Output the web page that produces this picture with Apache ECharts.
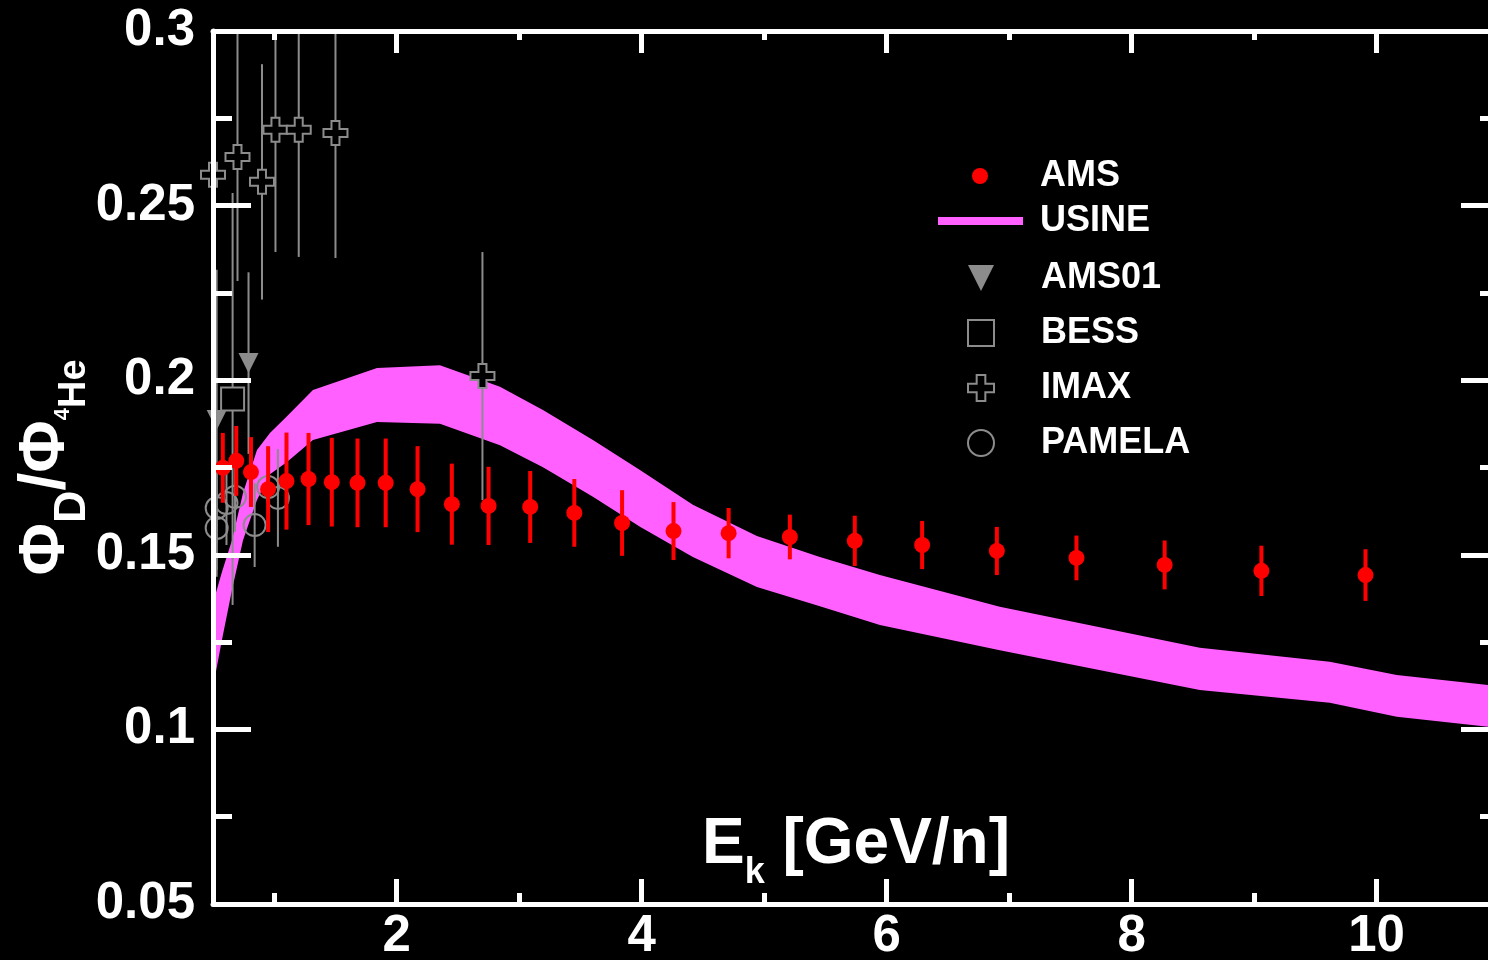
<!DOCTYPE html>
<html>
<head>
<meta charset="utf-8">
<script src="https://cdn.jsdelivr.net/npm/echarts@6/dist/echarts.min.js"></script>
<style>
html,body{margin:0;padding:0;background:#000;}
#chart{width:1488px;height:960px;}
</style>
</head>
<body>
<div id="chart"></div>
<script>
// ---------------- data ----------------
// AMS (red dots)
const amsE     = [0.58,0.69,0.81,0.95,1.10,1.28,1.47,1.68,1.91,2.17,2.45,2.75,3.09,3.45,3.84,4.26,4.71,5.21,5.74,6.29,6.90,7.55,8.27,9.06,9.91];
const amsRatio = [0.1749,0.1769,0.1737,0.1688,0.1711,0.1717,0.1708,0.1706,0.1706,0.1688,0.1645,0.1640,0.1637,0.1620,0.1591,0.1568,0.1562,0.1551,0.1540,0.1528,0.1511,0.1491,0.1471,0.1454,0.1442];
const amsErr   = [0.0100,0.0100,0.0100,0.0123,0.0139,0.0132,0.0127,0.0127,0.0127,0.0123,0.0116,0.0112,0.0103,0.0097,0.0094,0.0083,0.0072,0.0064,0.0072,0.0069,0.0069,0.0064,0.0070,0.0072,0.0074];

// USINE model band
const usineE    = [0.5,0.573,0.655,0.745,0.859,0.965,1.104,1.316,1.839,2.353,2.843,3.194,3.602,3.986,4.418,4.941,5.455,5.945,6.924,8.557,9.618,10.165,11.0];
const usineHigh = [0.1362,0.1451,0.1542,0.1677,0.1800,0.1849,0.1897,0.1972,0.2035,0.2043,0.1981,0.1915,0.1829,0.1743,0.1643,0.1554,0.1494,0.1442,0.1351,0.1234,0.1194,0.1156,0.1124];
const usineLow  = [0.1121,0.1256,0.1399,0.1542,0.1657,0.1731,0.1766,0.1829,0.1880,0.1875,0.1814,0.1751,0.1666,0.1580,0.1494,0.1408,0.1353,0.1299,0.1227,0.1113,0.1076,0.1036,0.1004];

// AMS01
const ams01E     = [0.53,0.79];
const ams01Ratio = [0.1886,0.2049];
const ams01Err   = [0.043,0.026];

// BESS
const bessE     = [0.66];
const bessRatio = [0.1946];
const bessErr   = [0.059];

// IMAX
const imaxE     = [0.50,0.70,0.90,1.01,1.20,1.50,2.70];
const imaxRatio = [0.2588,0.2639,0.2568,0.2717,0.2717,0.2708,0.2012];
const imaxErr   = [0.0415,0.0355,0.0337,0.0350,0.0364,0.0358,0.0355];

// PAMELA
const pamelaE     = [0.53,0.53,0.61,0.68,0.84,0.95,1.03];
const pamelaRatio = [0.1634,0.1577,0.1648,0.1666,0.1585,0.1694,0.1663];
const pamelaErr   = [0.010,0.014,0.012,0.010,0.012,0.008,0.014];

// ticks
const xMajorTicks = [2,4,6,8,10];
const xMinorTicks = [1,3,5,7,9];

// ---------------- styles ----------------
const FONT = '"Liberation Sans", Arial, sans-serif';
const WHITE = '#ffffff';
const GREY = '#8c8c8c';
const RED = '#ff0000';
const PINK = '#ff60ff';
const X_MIN = 0.5, X_MAX = 11, Y_MIN = 0.05, Y_MAX = 0.3;

const trianglePath = 'path://M0,0L2,0L1,2Z';
const plusPath = 'path://M1,0H2V1H3V2H2V3H1V2H0V1H1Z';
const squarePath = 'path://M0,0H1V1H0Z';

const lineSt = {color: WHITE, width: 5};
const tickLabel = {color: WHITE, fontFamily: FONT, fontWeight: 'bold', fontSize: 51};
const legendText = {color: WHITE, fontFamily: FONT, fontWeight: 'bold', fontSize: 36};

function zip(a, b) { return a.map((v, i) => [v, b[i]]); }

function errSeries(name, E, V, Err, color, width, z) {
  return {
    type: 'custom', name: name, z: z, clip: true, silent: true,
    xAxisIndex: 0, yAxisIndex: 0,
    data: E.map((e, i) => [e, V[i] - Err[i], V[i] + Err[i]]),
    encode: {x: 0, y: [1, 2]},
    renderItem: function (params, api) {
      const lo = api.coord([api.value(0), api.value(1)]);
      const hi = api.coord([api.value(0), api.value(2)]);
      return {type: 'line', shape: {x1: lo[0], y1: lo[1], x2: hi[0], y2: hi[1]},
              style: {stroke: color, lineWidth: width}};
    }
  };
}

const xAxisBase = {type: 'value', min: X_MIN, max: X_MAX, splitLine: {show: false}, z: 10};

const option = {
  backgroundColor: '#000000',
  animation: false,
  grid: {left: 213, top: 31, right: -11, bottom: 56, containLabel: false, outerBoundsMode: 'none'},
  xAxis: [
    Object.assign({}, xAxisBase, {
      position: 'bottom',
      axisLine: {show: true, onZero: false, lineStyle: lineSt},
      axisTick: {show: true, inside: true, length: 25, customValues: xMajorTicks, lineStyle: lineSt},
      axisLabel: Object.assign({customValues: xMajorTicks, margin: 7}, tickLabel),
      name: '{e|E}{k|k}{e| [GeV/n]}',
      nameLocation: 'middle',
      nameGap: -91,
      nameMoveOverlap: false,
      nameTextStyle: {
        color: WHITE,
        rich: {
          e: {fontFamily: FONT, fontWeight: 'bold', fontSize: 64, color: WHITE, verticalAlign: 'top'},
          k: {fontFamily: FONT, fontWeight: 'bold', fontSize: 36, color: WHITE, verticalAlign: 'top', padding: [42, 0, 0, 0]}
        }
      }
    }),
    Object.assign({}, xAxisBase, {
      position: 'bottom',
      axisLine: {show: false, onZero: false},
      axisTick: {show: true, inside: true, length: 11, customValues: xMinorTicks, lineStyle: lineSt},
      axisLabel: {show: false}
    }),
    Object.assign({}, xAxisBase, {
      position: 'top',
      axisLine: {show: true, onZero: false, lineStyle: lineSt},
      axisTick: {show: true, inside: true, length: 22, customValues: xMajorTicks, lineStyle: lineSt},
      axisLabel: {show: false}
    }),
    Object.assign({}, xAxisBase, {
      position: 'top',
      axisLine: {show: false, onZero: false},
      axisTick: {show: true, inside: true, length: 9, customValues: xMinorTicks, lineStyle: lineSt},
      axisLabel: {show: false}
    })
  ],
  yAxis: [
    {
      type: 'value', position: 'left', min: Y_MIN, max: Y_MAX, interval: 0.05, z: 10,
      axisLine: {show: true, onZero: false, lineStyle: lineSt},
      axisTick: {show: true, inside: true, length: 38, lineStyle: lineSt},
      minorTick: {show: true, splitNumber: 2, length: 19, lineStyle: lineSt},
      splitLine: {show: false}, minorSplitLine: {show: false},
      axisLabel: Object.assign({margin: 18, formatter: v => String(+(+v).toFixed(2))}, tickLabel),
      name: '{p|Φ}{d|D}{p|/Φ}{f|4}{h|He}',
      nameLocation: 'middle',
      nameRotate: 90,
      nameGap: 118,
      nameMoveOverlap: false,
      nameTextStyle: {
        color: WHITE,
        rich: {
          p: {fontFamily: FONT, fontWeight: 'bold', fontSize: 64, color: WHITE, verticalAlign: 'top'},
          d: {fontFamily: FONT, fontWeight: 'bold', fontSize: 45, color: WHITE, verticalAlign: 'top', padding: [36, 0, 0, 0]},
          f: {fontFamily: FONT, fontWeight: 'bold', fontSize: 22, color: WHITE, verticalAlign: 'top', padding: [38, 0, 0, 0]},
          h: {fontFamily: FONT, fontWeight: 'bold', fontSize: 38, color: WHITE, verticalAlign: 'top', padding: [42, 0, 0, 0]}
        }
      }
    },
    {
      type: 'value', position: 'right', min: Y_MIN, max: Y_MAX, interval: 0.05, z: 10,
      axisLine: {show: true, onZero: false, lineStyle: lineSt},
      axisTick: {show: true, inside: true, length: 38, lineStyle: lineSt},
      minorTick: {show: true, splitNumber: 2, length: 19, lineStyle: lineSt},
      splitLine: {show: false}, minorSplitLine: {show: false},
      axisLabel: {show: false}
    }
  ],
  legend: [
    {
      orient: 'vertical', left: 972, top: 158, padding: 0, itemWidth: 16, itemHeight: 16,
      selectedMode: false,
      textStyle: Object.assign({padding: [0, 0, 0, 47]}, legendText),
      data: [{name: 'AMS', icon: 'circle', itemStyle: {color: RED}}]
    },
    {
      orient: 'vertical', left: 938, top: 203, padding: 0, itemWidth: 85, itemHeight: 8,
      selectedMode: false,
      textStyle: Object.assign({padding: [0, 0, 0, 12]}, legendText),
      data: [{name: 'USINE', icon: 'rect', itemStyle: {color: PINK}}]
    },
    {
      orient: 'vertical', left: 967, top: 260, padding: 0, itemWidth: 26, itemHeight: 26, itemGap: 19,
      selectedMode: false,
      textStyle: Object.assign({padding: [0, 0, 0, 42]}, legendText),
      data: [
        {name: 'AMS01', icon: trianglePath, itemStyle: {color: GREY, borderWidth: 0}},
        {name: 'BESS', icon: squarePath, itemStyle: {color: 'rgba(0,0,0,0)', borderColor: GREY, borderWidth: 2}},
        {name: 'IMAX', icon: plusPath, itemStyle: {color: 'rgba(0,0,0,0)', borderColor: GREY, borderWidth: 2}},
        {name: 'PAMELA', icon: 'circle', itemStyle: {color: 'rgba(0,0,0,0)', borderColor: GREY, borderWidth: 2}}
      ]
    }
  ],
  series: [
    {
      type: 'custom', name: 'USINE', z: 1, clip: true, silent: true,
      xAxisIndex: 0, yAxisIndex: 0,
      data: [[usineE[0], usineLow[0]]],
      itemStyle: {color: PINK},
      renderItem: function (params, api) {
        const pts = [];
        for (let i = 0; i < usineE.length; i++) pts.push(api.coord([usineE[i], usineHigh[i]]));
        for (let i = usineE.length - 1; i >= 0; i--) pts.push(api.coord([usineE[i], usineLow[i]]));
        return {type: 'polygon', shape: {points: pts}, style: {fill: PINK}};
      }
    },
    errSeries('AMS01 err', ams01E, ams01Ratio, ams01Err, GREY, 2, 2),
    errSeries('BESS err', bessE, bessRatio, bessErr, GREY, 2, 2),
    errSeries('IMAX err', imaxE, imaxRatio, imaxErr, GREY, 2, 2),
    errSeries('PAMELA err', pamelaE, pamelaRatio, pamelaErr, GREY, 2, 2),
    {
      type: 'scatter', name: 'AMS01', z: 3, clip: false, silent: true,
      data: zip(ams01E, ams01Ratio), symbol: trianglePath, symbolSize: 20,
      itemStyle: {color: GREY, opacity: 1}
    },
    {
      type: 'scatter', name: 'BESS', z: 3, clip: false, silent: true,
      data: zip(bessE, bessRatio), symbol: 'rect', symbolSize: 23,
      itemStyle: {color: '#000000', borderColor: GREY, borderWidth: 2, opacity: 1}
    },
    {
      type: 'scatter', name: 'IMAX', z: 3, clip: false, silent: true,
      data: zip(imaxE, imaxRatio), symbol: plusPath, symbolSize: 24,
      itemStyle: {color: '#000000', borderColor: GREY, borderWidth: 2, opacity: 1}
    },
    {
      type: 'scatter', name: 'PAMELA', z: 3, clip: false, silent: true,
      data: zip(pamelaE, pamelaRatio), symbol: 'circle', symbolSize: 22,
      itemStyle: {color: 'rgba(0,0,0,0)', borderColor: GREY, borderWidth: 2, opacity: 1}
    },
    errSeries('AMS err', amsE, amsRatio, amsErr, RED, 4, 5),
    {
      type: 'scatter', name: 'AMS', z: 6, clip: false, silent: true,
      data: zip(amsE, amsRatio), symbol: 'circle', symbolSize: 16,
      itemStyle: {color: RED, opacity: 1}
    }
  ]
};

const chart = echarts.init(document.getElementById('chart'), null, {renderer: 'canvas'});
chart.setOption(option);
</script>
</body>
</html>
